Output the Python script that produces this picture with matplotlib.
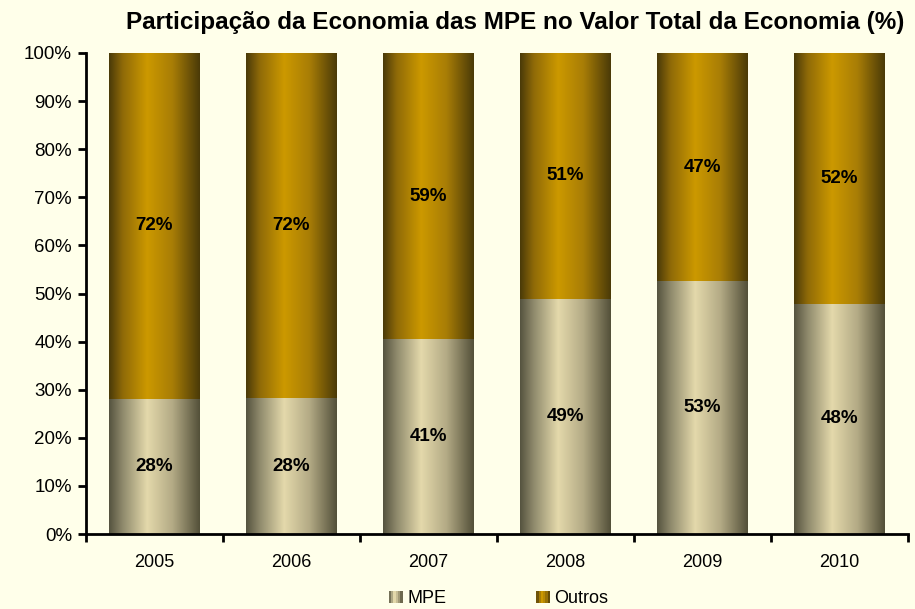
import numpy as np
import matplotlib
matplotlib.use("Agg")
import matplotlib.pyplot as plt
from matplotlib.colors import LinearSegmentedColormap
from matplotlib.legend_handler import HandlerBase
from matplotlib.patches import Rectangle

plt.rcParams['font.family'] = ['Liberation Sans', 'DejaVu Sans']

anos = ['2005', '2006', '2007', '2008', '2009', '2010']
mpe = [28.1, 28.3, 40.5, 48.9, 52.6, 47.9]
outros = [100 - v for v in mpe]
rot_mpe = ['28%', '28%', '41%', '49%', '53%', '48%']
rot_outros = ['72%', '72%', '59%', '51%', '47%', '52%']

fundo = '#ffffea'
stops = [0.0, 0.15, 0.42, 0.7, 1.0]
cm_mpe = LinearSegmentedColormap.from_list(
    'mpe', list(zip(stops, ['#55533f', '#8f8a6c', '#e4d9ab', '#b3aa85', '#535039'])))
cm_out = LinearSegmentedColormap.from_list(
    'out', list(zip(stops, ['#4a3a08', '#8f6a08', '#cc9900', '#a87d06', '#4a3a08'])))

grad = np.linspace(0, 1, 256).reshape(1, -1)


class HandlerStripes(HandlerBase):
    def __init__(self, cmap):
        super().__init__()
        self.cmap = cmap

    def create_artists(self, legend, orig, xd, yd, width, height, fontsize, trans):
        arts = []
        n = 6
        w = width / n
        for i in range(n):
            arts.append(Rectangle((xd + i * w, yd), w, height,
                                  facecolor=self.cmap((i + 0.5) / n),
                                  edgecolor='none', transform=trans))
        return arts


fig = plt.figure(figsize=(9.15, 6.09), dpi=100, facecolor=fundo)
ax = fig.add_axes([0.094, 0.123, 0.898, 0.79])
ax.set_facecolor(fundo)

larg = 0.66
x = np.arange(len(anos))
for i in x:
    x0, x1 = i - larg / 2, i + larg / 2
    ax.imshow(grad, cmap=cm_mpe, extent=[x0, x1, 0, mpe[i]], aspect='auto',
              interpolation='bilinear', zorder=2)
    ax.imshow(grad, cmap=cm_out, extent=[x0, x1, mpe[i], 100], aspect='auto',
              interpolation='bilinear', zorder=2)
    ax.text(i, mpe[i] / 2, rot_mpe[i], ha='center', va='center',
            fontsize=13.5, fontweight='bold', zorder=3)
    ax.text(i, mpe[i] + outros[i] / 2, rot_outros[i], ha='center', va='center',
            fontsize=13.5, fontweight='bold', zorder=3)

ax.set_xlim(-0.5, len(anos) - 0.5)
ax.set_ylim(0, 100)
ax.set_yticks(np.arange(0, 101, 10))
ax.set_yticklabels([f'{v}%' for v in range(0, 101, 10)], fontsize=13.5)
ax.set_xticks(x)
ax.set_xticklabels(anos, fontsize=13)
ax.set_xticks(np.arange(-0.5, len(anos), 1), minor=True)
ax.tick_params(axis='x', which='major', length=0, pad=14)
ax.tick_params(axis='x', which='minor', length=6, width=2, direction='out')
ax.tick_params(axis='y', length=6, width=2, direction='out', pad=4)
for s in ['top', 'right']:
    ax.spines[s].set_visible(False)
for s in ['left', 'bottom']:
    ax.spines[s].set_linewidth(2)

fig.text(0.563, 0.963, 'Participação da Economia das MPE no Valor Total da Economia (%)',
         ha='center', va='center', fontsize=17.5, fontweight='bold')

h1 = Rectangle((0, 0), 1, 1)
h2 = Rectangle((0, 0), 1, 1)
fig.legend([h1, h2], ['MPE', 'Outros'], loc='center', bbox_to_anchor=(0.545, 0.017),
           ncol=2, frameon=False, fontsize=13, columnspacing=5.0,
           handlelength=0.75, handletextpad=0.25,
           handler_map={h1: HandlerStripes(cm_mpe), h2: HandlerStripes(cm_out)})

fig.savefig('out.png', dpi=100, facecolor=fundo)
